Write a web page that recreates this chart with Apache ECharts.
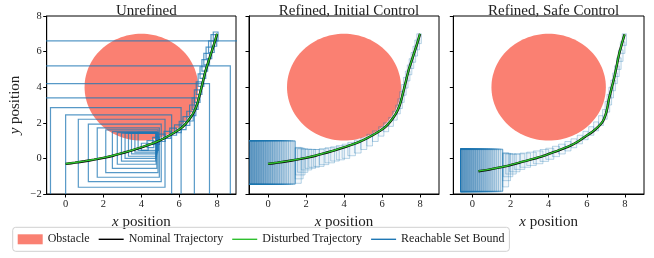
<!DOCTYPE html>
<html>
<head>
<meta charset="utf-8">
<script src="https://cdn.jsdelivr.net/npm/echarts@6/dist/echarts.min.js"></script>
<style>
  html, body { margin: 0; padding: 0; background: #fff; }
  #chart { width: 654px; height: 258px; }
</style>
</head>
<body>
<div id="chart"></div>
<script>
// obstacle: circle centre and radius (data units)
const obstacleCenter = [4, 4];
const obstacleRadius = 3;

const panelTitles = ['Unrefined', 'Refined, Initial Control', 'Refined, Safe Control'];
const xTicks = [0, 2, 4, 6, 8];

// nominal trajectory (panels 1 and 2)
const nomX = [0, 0.5, 1, 1.5, 2, 2.5, 3, 3.5, 4, 4.5, 5, 5.5, 6, 6.3, 6.6, 6.8, 6.95, 7.1, 7.25, 7.4, 7.55, 7.7, 7.85, 8.0];
const nomY = [-0.31, -0.24, -0.16, -0.07, 0.03, 0.15, 0.3, 0.45, 0.62, 0.8, 1.02, 1.3, 1.62, 1.9, 2.3, 2.65, 3.05, 3.65, 4.3, 4.95, 5.45, 5.95, 6.45, 7.0];
const distY = [-0.3, -0.23, -0.15, -0.06, 0.04, 0.16, 0.31, 0.46, 0.63, 0.81, 1.03, 1.31, 1.63, 1.91, 2.31, 2.66, 3.06, 3.66, 4.31, 4.96, 5.46, 5.96, 6.46, 7.0];

// nominal trajectory (panel 3, safe control)
const safeX = [0.32, 1.0, 1.85, 2.7, 3.62, 4.3, 5.03, 5.5, 5.91, 6.3, 6.62, 6.85, 6.97, 7.08, 7.15, 7.28, 7.41, 7.55, 7.68, 7.83, 7.98];
const safeY = [-0.72, -0.6, -0.42, -0.17, 0.1, 0.36, 0.66, 0.92, 1.22, 1.5, 1.8, 2.1, 2.4, 2.85, 3.28, 3.85, 4.4, 5.1, 5.8, 6.4, 6.97];
const safeDistY = [-0.71, -0.59, -0.41, -0.16, 0.11, 0.37, 0.67, 0.93, 1.23, 1.51, 1.81, 2.11, 2.41, 2.86, 3.29, 3.86, 4.41, 5.11, 5.81, 6.41, 6.97];

// reachable set boxes [xlo, xhi, ylo, yhi]
const unrefinedBoxes = [
  [-1.5, 9.5, -2.5, 6.6], [-1.5, 8.7, -2.5, 5.2], [-1.5, 7.6, -2.5, 4.2], [-1.5, 6.8, -2.5, 3.4],
  [-0.8, 6.1, -2.5, 2.85], [0.0, 5.6, -2.05, 2.45], [0.67, 5.25, -1.62, 2.2], [1.2, 5.05, -1.31, 1.93],
  [1.67, 4.95, -1.06, 1.72], [2.12, 4.88, -0.8, 1.6], [2.47, 4.82, -0.56, 1.5], [2.73, 4.78, -0.33, 1.45],
  [2.95, 4.76, -0.15, 1.42], [3.14, 4.78, 0.0, 1.42], [3.32, 4.8, 0.12, 1.42], [3.48, 4.83, 0.25, 1.43],
  [3.66, 4.86, 0.35, 1.45], [3.83, 4.9, 0.45, 1.47],
  [4.0, 4.36, 0.45, 0.85], [4.3, 4.66, 0.6, 1.0], [4.6, 4.96, 0.78, 1.18], [4.9, 5.26, 0.95, 1.36],
  [5.2, 5.56, 1.12, 1.52], [5.5, 5.86, 1.3, 1.7], [5.75, 6.11, 1.45, 1.88], [6.0, 6.36, 1.62, 2.08],
  [6.2, 6.56, 1.85, 2.35], [6.4, 6.74, 2.1, 2.65], [6.55, 6.88, 2.4, 3.0], [6.68, 7.0, 2.75, 3.4],
  [6.8, 7.1, 3.15, 3.85], [6.9, 7.2, 3.6, 4.3], [7.0, 7.3, 4.05, 4.75], [7.1, 7.4, 4.5, 5.15],
  [7.2, 7.5, 4.9, 5.55], [7.3, 7.6, 5.25, 5.9], [7.42, 7.72, 5.6, 6.25], [7.55, 7.85, 5.95, 6.6],
  [7.68, 7.98, 6.3, 6.95], [7.8, 8.05, 6.6, 7.1]
];

const initialBoxes = [
  [-1.5, -0.85, -1.46, 1.0], [-1.5, -0.72, -1.46, 1.0], [-1.5, -0.6, -1.46, 1.0], [-1.5, -0.48, -1.46, 1.0],
  [-1.5, -0.36, -1.46, 1.0], [-1.5, -0.24, -1.46, 1.0], [-1.5, -0.12, -1.46, 1.0], [-1.5, 0.0, -1.46, 1.0],
  [-1.5, 0.12, -1.46, 1.0], [-1.5, 0.24, -1.46, 1.0], [-1.5, 0.36, -1.46, 1.0], [-1.5, 0.48, -1.46, 1.0],
  [-1.5, 0.6, -1.46, 1.0], [-1.5, 0.72, -1.46, 1.0], [-1.5, 0.84, -1.46, 1.0], [-1.5, 0.96, -1.46, 1.0],
  [-1.5, 1.08, -1.46, 1.0], [-1.5, 1.2, -1.46, 1.0], [-1.5, 1.32, -1.46, 1.0], [-1.5, 1.43, -1.46, 1.0],
  [-1.5, 1.43, -1.44, 0.98], [-1.5, 1.43, -1.42, 0.96],
  [1.43, 1.75, -1.4, 0.62], [1.43, 1.85, -1.15, 0.6], [1.45, 1.95, -0.93, 0.57], [1.55, 2.1, -0.78, 0.54],
  [1.75, 2.3, -0.65, 0.52], [1.95, 2.5, -0.56, 0.51], [2.15, 2.7, -0.5, 0.5], [2.4, 2.95, -0.45, 0.5],
  [2.7, 3.2, -0.35, 0.55], [3.0, 3.5, -0.25, 0.6], [3.3, 3.75, -0.15, 0.65], [3.6, 4.02, -0.08, 0.72],
  [3.9, 4.3, 0.0, 0.8], [4.2, 4.6, 0.15, 0.9], [4.55, 4.9, 0.3, 1.02], [4.88, 5.2, 0.5, 1.15],
  [5.2, 5.5, 0.7, 1.35], [5.5, 5.8, 0.95, 1.55], [5.82, 6.1, 1.25, 1.78], [6.08, 6.35, 1.5, 2.0],
  [6.35, 6.6, 1.8, 2.3], [6.56, 6.8, 2.15, 2.65], [6.72, 6.96, 2.5, 3.0], [6.83, 7.07, 2.8, 3.35],
  [6.93, 7.17, 3.15, 3.75], [7.03, 7.27, 3.55, 4.15], [7.13, 7.37, 3.95, 4.55], [7.23, 7.47, 4.35, 4.9],
  [7.33, 7.57, 4.7, 5.25], [7.43, 7.67, 5.05, 5.6], [7.53, 7.77, 5.4, 5.95], [7.63, 7.87, 5.75, 6.3],
  [7.73, 7.97, 6.1, 6.65], [7.83, 8.07, 6.45, 7.0]
];

const safeBoxes = [
  [-0.62, -0.5, -1.87, 0.53], [-0.62, -0.39, -1.87, 0.53], [-0.62, -0.28, -1.87, 0.53], [-0.62, -0.17, -1.87, 0.53],
  [-0.62, -0.06, -1.87, 0.53], [-0.62, 0.05, -1.87, 0.53], [-0.62, 0.16, -1.87, 0.53], [-0.62, 0.27, -1.87, 0.53],
  [-0.62, 0.38, -1.87, 0.53], [-0.62, 0.49, -1.87, 0.53], [-0.62, 0.6, -1.87, 0.53], [-0.62, 0.71, -1.87, 0.53],
  [-0.62, 0.82, -1.87, 0.53], [-0.62, 0.93, -1.87, 0.53], [-0.62, 1.04, -1.87, 0.53], [-0.62, 1.15, -1.87, 0.53],
  [-0.62, 1.26, -1.87, 0.53], [-0.62, 1.37, -1.87, 0.53], [-0.62, 1.48, -1.87, 0.53], [-0.62, 1.59, -1.87, 0.53],
  [-0.62, 1.59, -1.85, 0.51], [-0.62, 1.59, -1.83, 0.49],
  [1.59, 1.9, -1.6, 0.32], [1.59, 2.0, -1.25, 0.29], [1.62, 2.12, -1.03, 0.27], [1.75, 2.3, -0.88, 0.25],
  [1.95, 2.5, -0.75, 0.24], [2.2, 2.75, -0.62, 0.26], [2.5, 3.05, -0.5, 0.3], [2.85, 3.35, -0.4, 0.35],
  [3.2, 3.7, -0.3, 0.42], [3.55, 4.0, -0.17, 0.5], [3.85, 4.27, -0.05, 0.57], [4.2, 4.57, 0.1, 0.68],
  [4.52, 4.87, 0.25, 0.8], [4.85, 5.17, 0.42, 0.95], [5.17, 5.47, 0.6, 1.1], [5.5, 5.77, 0.82, 1.3],
  [5.8, 6.07, 1.05, 1.52], [6.1, 6.37, 1.3, 1.78], [6.36, 6.62, 1.55, 2.05], [6.62, 6.87, 1.85, 2.4],
  [6.83, 7.07, 2.2, 2.75], [6.96, 7.2, 2.6, 3.2], [7.06, 7.3, 3.0, 3.6], [7.16, 7.4, 3.4, 4.0],
  [7.26, 7.5, 3.8, 4.4], [7.36, 7.6, 4.2, 4.8], [7.46, 7.7, 4.6, 5.2], [7.56, 7.8, 5.0, 5.65],
  [7.66, 7.9, 5.45, 6.1], [7.76, 8.0, 5.9, 6.55], [7.86, 8.08, 6.35, 7.0]
];

const FONT = 'Liberation Serif';
const BLUE = '#1f77b4';
const SALMON = '#FA8072';
const GREEN = '#2EBF2E';

const grids = [
  { left: 46.7, top: 16, width: 189.3, height: 178 },
  { left: 249, top: 16, width: 190, height: 178 },
  { left: 453.3, top: 16, width: 190.7, height: 178 }
];

function zip(xs, ys) {
  return xs.map((x, i) => [x, ys[i]]);
}

function obstacleItem(params, api) {
  const cx = api.value(0), cy = api.value(1), r = api.value(2);
  const pts = [];
  for (let k = 0; k < 120; k++) {
    const a = (k / 120) * Math.PI * 2;
    pts.push(api.coord([cx + r * Math.cos(a), cy + r * Math.sin(a)]));
  }
  return { type: 'polygon', shape: { points: pts }, style: { fill: SALMON, stroke: 'none' } };
}

function boxRenderer(fill, stroke, lw) {
  return function (params, api) {
    const a = api.coord([api.value(0), api.value(3)]);
    const b = api.coord([api.value(1), api.value(2)]);
    return {
      type: 'rect',
      shape: { x: a[0], y: a[1], width: b[0] - a[0], height: b[1] - a[1] },
      style: { fill: fill, stroke: stroke, lineWidth: lw }
    };
  };
}

const trajX = [nomX, nomX, safeX];
const trajY = [nomY, nomY, safeY];
const trajD = [distY, distY, safeDistY];
const boxSets = [unrefinedBoxes, initialBoxes, safeBoxes];

const nameStyle = {
  fontFamily: FONT, fontSize: 15, color: '#222',
  rich: { i: { fontFamily: FONT, fontSize: 15, fontStyle: 'italic', color: '#222' } }
};

const xAxes = [], yAxes = [], series = [], titles = [];
grids.forEach((g, i) => {
  titles.push({
    text: panelTitles[i],
    left: g.left + g.width / 2,
    top: -1,
    textAlign: 'center',
    textStyle: { fontFamily: FONT, fontSize: 15, fontWeight: 'normal', color: '#222' }
  });
  xAxes.push({
    gridIndex: i, type: 'value', min: -1, max: 9,
    name: '{i|x} position', nameLocation: 'middle', nameGap: 20,
    nameTextStyle: nameStyle,
    axisLine: { show: true, onZero: false, lineStyle: { color: '#000', width: 1 } },
    axisTick: { show: true, length: 3.5, customValues: xTicks, lineStyle: { color: '#000' } },
    axisLabel: { customValues: xTicks, margin: 5, fontFamily: FONT, fontSize: 10.5, color: '#222' },
    splitLine: { show: false }
  });
  yAxes.push({
    gridIndex: i, type: 'value', min: -2, max: 8, interval: 2,
    name: i === 0 ? '{i|y} position' : '', nameLocation: 'middle', nameGap: 24, nameRotate: 90,
    nameTextStyle: nameStyle,
    axisLine: { show: true, onZero: false, lineStyle: { color: '#000', width: 1 } },
    axisTick: { show: true, length: 3.5, lineStyle: { color: '#000' } },
    axisLabel: { show: i === 0, margin: 5, fontFamily: FONT, fontSize: 10.5, color: '#222',
      formatter: v => String(v).replace('-', '\u2212') },
    splitLine: { show: false }
  });
  series.push({
    name: 'Obstacle', type: 'custom', xAxisIndex: i, yAxisIndex: i, z: 1,
    itemStyle: { color: SALMON },
    renderItem: obstacleItem,
    data: [[obstacleCenter[0], obstacleCenter[1], obstacleRadius]],
    silent: true
  });
  series.push({
    name: 'Reachable Set Bound', type: 'custom', xAxisIndex: i, yAxisIndex: i, z: 2, clip: true,
    itemStyle: { color: BLUE },
    renderItem: i === 0
      ? boxRenderer('none', 'rgba(31,119,180,0.75)', 1.2)
      : boxRenderer('rgba(31,119,180,0.05)', 'rgba(31,119,180,0.38)', 0.8),
    data: boxSets[i],
    silent: true
  });
  series.push({
    name: 'Nominal Trajectory', type: 'line', xAxisIndex: i, yAxisIndex: i, z: 3,
    symbol: 'none', smooth: 0.3, color: '#000',
    lineStyle: { color: '#000', width: 2.4 },
    data: zip(trajX[i], trajY[i])
  });
  series.push({
    name: 'Disturbed Trajectory', type: 'line', xAxisIndex: i, yAxisIndex: i, z: 4,
    symbol: 'none', smooth: 0.3, color: GREEN,
    lineStyle: { color: GREEN, width: 1.4 },
    data: zip(trajX[i], trajD[i])
  });
});

const lineIcon = 'path://M0,0 L25,0 L25,1.4 L0,1.4 Z';

const option = {
  animation: false,
  backgroundColor: '#fff',
  title: titles,
  grid: grids.map(g => Object.assign({ show: true, borderColor: '#000', borderWidth: 1, backgroundColor: 'transparent' }, g)),
  xAxis: xAxes,
  yAxis: yAxes,
  legend: {
    left: 12.7, top: 227.3,
    orient: 'horizontal',
    itemWidth: 25, itemHeight: 10, itemGap: 9,
    padding: [6, 5, 6, 5],
    borderColor: '#d0d0d0', borderWidth: 1, borderRadius: 3,
    textStyle: { fontFamily: FONT, fontSize: 12, color: '#222' },
    data: [
      { name: 'Obstacle', icon: 'rect', itemStyle: { color: SALMON } },
      { name: 'Nominal Trajectory', icon: lineIcon, itemStyle: { color: '#000' } },
      { name: 'Disturbed Trajectory', icon: lineIcon, itemStyle: { color: GREEN } },
      { name: 'Reachable Set Bound', icon: lineIcon, itemStyle: { color: BLUE } }
    ]
  },
  series: series
};

const chart = echarts.init(document.getElementById('chart'), null, { renderer: 'canvas' });
chart.setOption(option);
</script>
</body>
</html>
